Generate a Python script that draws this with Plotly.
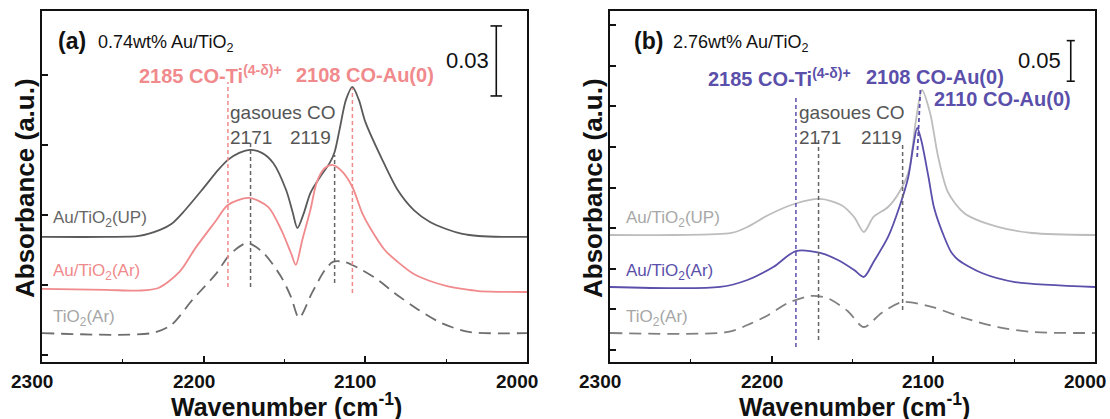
import plotly.graph_objects as go

FONT = "Liberation Sans, Arial, sans-serif"
W, H = 1110, 419
TOP, BOTTOM = 11, 362          # plot area edges (page px)

# ---------------- (a) 0.74wt% Au/TiO2 ----------------
wn_a_up = [2300, 2260, 2240, 2227, 2220, 2212, 2200, 2191, 2185, 2178, 2171, 2164, 2157,
           2149, 2145, 2142, 2138, 2134, 2128, 2122, 2119, 2116, 2112, 2108, 2104, 2100,
           2090, 2080, 2070, 2060, 2050, 2040, 2030, 2015, 2000]
abs_a_up = [0.0506, 0.0506, 0.0510, 0.0536, 0.0561, 0.0617, 0.0716, 0.0793, 0.0836, 0.0866,
            0.0879, 0.0866, 0.0823, 0.0707, 0.0613, 0.0544, 0.0609, 0.0694, 0.0763, 0.0823,
            0.0870, 0.0964, 0.1093, 0.1149, 0.1093, 0.0999, 0.0844, 0.0707, 0.0621, 0.0570,
            0.0540, 0.0519, 0.0510, 0.0506, 0.0506]

wn_a_ar = [2300, 2260, 2240, 2228, 2215, 2205, 2193, 2185, 2172, 2160, 2152, 2146, 2143,
           2139, 2134, 2130, 2125, 2120, 2114, 2108, 2102, 2097, 2088, 2080, 2070, 2060,
           2050, 2040, 2030, 2000]
abs_a_ar = [0.0283, 0.0279, 0.0276, 0.0287, 0.0356, 0.0459, 0.0570, 0.0643, 0.0673, 0.0634,
            0.0536, 0.0437, 0.0386, 0.0493, 0.0621, 0.0741, 0.0801, 0.0814, 0.0784, 0.0720,
            0.0609, 0.0544, 0.0450, 0.0399, 0.0347, 0.0317, 0.0296, 0.0283, 0.0274, 0.0270]

wn_a_ti = [2300, 2232, 2220, 2207, 2192, 2184, 2173, 2163, 2152, 2146, 2141, 2133, 2125,
           2120, 2113, 2102, 2092, 2082, 2067, 2053, 2036, 2000]
abs_a_ti = [0.0094, 0.0094, 0.0129, 0.0236, 0.0351, 0.0429, 0.0480, 0.0437, 0.0334, 0.0249,
            0.0159, 0.0266, 0.0364, 0.0399, 0.0399, 0.0364, 0.0321, 0.0266, 0.0193, 0.0137,
            0.0099, 0.0094]

# band positions marked with vertical dashed lines
mark_a_wn = [2185, 2171, 2119, 2108]
mark_a_top = [0.1170, 0.0909, 0.0857, 0.1144]
mark_a_bot = [0.0291, 0.0291, 0.0309, 0.0266]

# ---------------- (b) 2.76wt% Au/TiO2 ----------------
wn_b_up = [2300, 2260, 2225, 2215, 2202, 2186, 2170, 2157, 2149, 2143, 2137, 2128, 2121,
           2115, 2111, 2107, 2102, 2097, 2091, 2081, 2060, 2039, 2000]
abs_b_up = [0.1416, 0.1416, 0.1441, 0.1515, 0.1663, 0.1798, 0.1860, 0.1786, 0.1638, 0.1453,
            0.1638, 0.1761, 0.1946, 0.2217, 0.2796, 0.3202, 0.2919, 0.2377, 0.1946, 0.1687,
            0.1515, 0.1441, 0.1416]

wn_b_ar = [2300, 2232, 2215, 2199, 2185, 2170, 2159, 2149, 2143, 2137, 2128, 2121, 2115.5,
           2112.5, 2110, 2107.5, 2103, 2099.5, 2093, 2089, 2084.5, 2070, 2049.5, 2000]
abs_b_ar = [0.0776, 0.0776, 0.0862, 0.1022, 0.1219, 0.1195, 0.1108, 0.0985, 0.0899, 0.1084,
            0.1392, 0.1761, 0.2131, 0.2500, 0.2734, 0.2586, 0.2131, 0.1749, 0.1379, 0.1207,
            0.1108, 0.0948, 0.0837, 0.0776]

wn_b_ti = [2300, 2227, 2215, 2202, 2190, 2176, 2168, 2163, 2153, 2143, 2132, 2119, 2101,
           2081, 2060, 2039, 2000]
abs_b_ti = [0.0209, 0.0222, 0.0308, 0.0431, 0.0579, 0.0665, 0.0653, 0.0616, 0.0480, 0.0283,
            0.0456, 0.0591, 0.0530, 0.0394, 0.0283, 0.0222, 0.0209]

mark_b_wn = [2185, 2171, 2119]
mark_b_top = [0.3140, 0.2586, 0.2562]
mark_b_bot = [0.0037, 0.0123, 0.0493]
# Au(0) shift between the two samples: 2108 (UP) -> 2110 (Ar)
shift_b_wn = [2108, 2110]
shift_b_abs = [0.3202, 0.2377]

# x tick labels
x_ticks = [2300, 2200, 2100, 2000]

# scale bars
bar_a = 0.03
bar_b = 0.05

# colours
DARK = "#5a5a5a"
PINK = "#f08a8c"
GREY_DASH = "#6e6e6e"
LIGHT = "#bdbdbd"
PURPLE = "#5a4faa"
GREY_DASH_B = "#808080"
MARK_GREY = "#666666"
INK = "#111111"

fig = go.Figure()


def curve(x, y, color, xa, ya, dash=None, width=1.8):
    fig.add_trace(go.Scatter(
        x=x, y=y, mode="lines", xaxis=xa, yaxis=ya, hoverinfo="skip",
        line=dict(color=color, width=width, dash=dash, shape="spline", smoothing=0.8),
        showlegend=False))


def segment(x, y, color, xa, ya, dash=None, width=1.5):
    fig.add_trace(go.Scatter(
        x=x, y=y, mode="lines", xaxis=xa, yaxis=ya, hoverinfo="skip",
        line=dict(color=color, width=width, dash=dash), showlegend=False))


# panel (a) spectra
curve(wn_a_up, abs_a_up, DARK, "x", "y")
curve(wn_a_ar, abs_a_ar, PINK, "x", "y")
curve(wn_a_ti, abs_a_ti, GREY_DASH, "x", "y", dash="12px,7px")
mark_a_col = [PINK, MARK_GREY, MARK_GREY, PINK]
for w, t, b, c in zip(mark_a_wn, mark_a_top, mark_a_bot, mark_a_col):
    segment([w, w], [b, t], c, "x", "y", dash="4px,3px")

# panel (b) spectra
curve(wn_b_up, abs_b_up, LIGHT, "x2", "y2")
curve(wn_b_ar, abs_b_ar, PURPLE, "x2", "y2")
curve(wn_b_ti, abs_b_ti, GREY_DASH_B, "x2", "y2", dash="12px,7px")
mark_b_col = [PURPLE, MARK_GREY, MARK_GREY]
for w, t, b, c in zip(mark_b_wn, mark_b_top, mark_b_bot, mark_b_col):
    segment([w, w], [b, t], c, "x2", "y2", dash="4px,3px")
segment(shift_b_wn, shift_b_abs, PURPLE, "x2", "y2", dash="4px,3px", width=1.8)


# scale bars with end caps
def scale_bar(xc, ybot, span, half, xa, ya):
    segment([xc, xc], [ybot, ybot + span], INK, xa, ya, width=1.6)
    segment([xc - half, xc + half], [ybot, ybot], INK, xa, ya, width=1.6)
    segment([xc - half, xc + half], [ybot + span, ybot + span], INK, xa, ya, width=1.6)


scale_bar(2019, 0.1110, bar_a, 3.6, "x", "y")
scale_bar(2015, 0.3310, bar_b, 2.5, "x2", "y2")

# ---------------- axes ----------------
common_x = dict(
    range=[2300, 2000], tickvals=x_ticks, ticks="inside", ticklen=6, tickwidth=1.6,
    tickcolor=INK, showline=True, linewidth=2, linecolor=INK, mirror=True,
    showgrid=False, zeroline=False, showticklabels=False, automargin=False,
    minor=dict(ticks="inside", dtick=50, tick0=2000, ticklen=3, tickwidth=1.2,
               tickcolor=INK, showgrid=False),
)
common_y = dict(
    ticks="inside", ticklen=6, tickwidth=1.6, tickcolor=INK, showticklabels=False,
    showline=True, linewidth=2, linecolor=INK, mirror=True, showgrid=False,
    zeroline=False, automargin=False,
)

fig.update_layout(
    width=W, height=H,
    margin=dict(l=0, r=0, t=TOP, b=H - BOTTOM, autoexpand=False),
    paper_bgcolor="white", plot_bgcolor="white",
    xaxis=dict(domain=[42 / W, 527 / W], anchor="y", **common_x),
    yaxis=dict(domain=[0, 1], anchor="x", range=[-0.0030, 0.1474], tick0=0, dtick=0.03,
               **common_y),
    xaxis2=dict(domain=[610 / W, 1095 / W], anchor="y2", **common_x),
    yaxis2=dict(domain=[0, 1], anchor="x2", range=[-0.0148, 0.4175], tick0=0, dtick=0.05,
                **common_y),
)


def at(px, py):
    """page pixel -> paper coordinates"""
    return px / W, (BOTTOM - py) / (BOTTOM - TOP)


def label(text, px, py, color=INK, size=19, bold=False, xanchor="left", angle=0):
    x, y = at(px, py)
    fig.add_annotation(
        text=text, x=x, y=y, xref="paper", yref="paper", xanchor=xanchor, yanchor="middle",
        showarrow=False, textangle=angle,
        font=dict(family=FONT, size=size, color=color, weight="bold" if bold else "normal"))


# tick labels on the wavenumber axes (drawn as text so the end labels are not clipped)
for xa in ["x", "x2"]:
    for t in x_ticks:
        fig.add_annotation(
            text=str(t), x=t, xref=xa, y=at(0, 381)[1], yref="paper", xshift=-10,
            xanchor="center", yanchor="middle", showarrow=False,
            font=dict(family=FONT, size=19, color=INK, weight="bold"))

TXT_GREY = "#555555"
panels = [
    dict(off=0, tag="(a)", loading="0.74wt% Au/TiO<sub>2</sub>", ar=PINK, up="#666666",
         tag_x=56, load_x=96, curve_x=51),
    dict(off=568, tag="(b)", loading="2.76wt% Au/TiO<sub>2</sub>", ar=PURPLE, up="#a8a8a8",
         tag_x=632, load_x=671, curve_x=624),
]
for p in panels:
    off = p["off"]
    label(p["tag"], p["tag_x"], 41, size=23, bold=True)
    label(p["loading"], p["load_x"], 43, size=18)
    label("Absorbance (a.u.)", 25 + off, 188, size=26, bold=True, xanchor="center", angle=-90)
    label("Wavenumber (cm<sup>-1</sup>)", 286 + off, 405, size=25, bold=True, xanchor="center")
    label("Au/TiO<sub>2</sub>(UP)", p["curve_x"], 219, color=p["up"], size=17)
    label("Au/TiO<sub>2</sub>(Ar)", p["curve_x"], 272, color=p["ar"], size=17)
    label("TiO<sub>2</sub>(Ar)", p["curve_x"], 318, color="#a6a6a6", size=17)

# panel (a) band labels
label("2185 CO-Ti<sup>(4-δ)+</sup>", 137, 74, color=PINK, bold=True, size=20)
label("2108 CO-Au(0)", 294, 75, color=PINK, bold=True, size=20)
label("gasoues CO", 228, 113, color=TXT_GREY)
label("2171", 228, 137, color=TXT_GREY)
label("2119", 288, 137, color=TXT_GREY)
label(f"{bar_a:.2f}", 491, 60, size=22, xanchor="right")

# panel (b) band labels
label("2185 CO-Ti<sup>(4-δ)+</sup>", 706, 77, color=PURPLE, bold=True, size=20)
label("2108 CO-Au(0)", 864, 77, color=PURPLE, bold=True, size=20)
label("2110 CO-Au(0)", 932, 99, color=PURPLE, bold=True, size=20)
label("gasoues CO", 797, 113, color=TXT_GREY)
label("2171", 797, 137, color=TXT_GREY)
label("2119", 859, 137, color=TXT_GREY)
label(f"{bar_b:.2f}", 1063, 60, size=22, xanchor="right")

fig.write_html("out.html")
